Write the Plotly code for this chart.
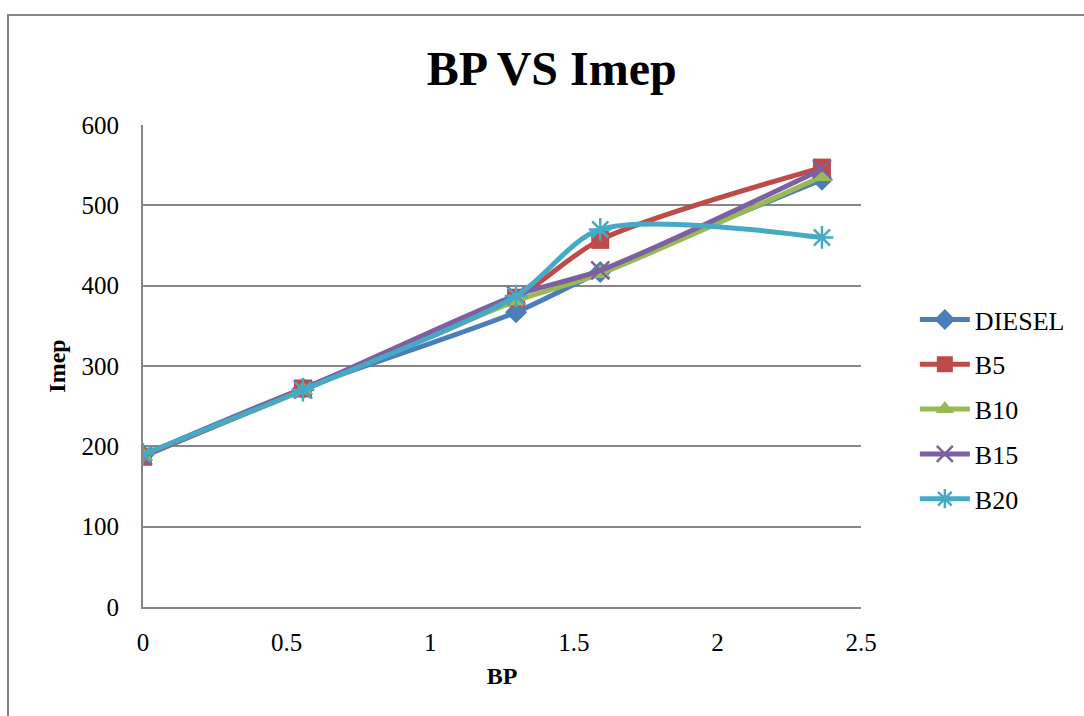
import plotly.graph_objects as go

bp = [0, 0.557, 1.299, 1.592, 2.364]
series_names = ["DIESEL", "B5", "B10", "B15", "B20"]
diesel = [189, 272, 367, 417, 532]
b5 = [187, 272, 385, 457, 547]
b10 = [188, 270, 381, 415, 536]
b15 = [188, 271, 388, 419, 545]
b20 = [190, 270, 387, 470, 460]
x_ticks = [0, 0.5, 1, 1.5, 2, 2.5]
y_ticks = [0, 100, 200, 300, 400, 500, 600]

colors = ["#4A7EBB", "#BE4B48", "#98B954", "#7D60A0", "#46AAC5"]
symbols = ["diamond", "square", "triangle-up", "x-thin", "asterisk"]
sizes = [17, 18, 18, 18, 19]

FONT = "Liberation Serif"
fig = go.Figure()
for i, (name, ys) in enumerate(zip(series_names, [diesel, b5, b10, b15, b20])):
    thin = symbols[i] in ("x-thin", "asterisk")
    fig.add_trace(go.Scatter(
        x=bp, y=ys, name=name, mode="lines+markers",
        line=dict(color=colors[i], width=5, shape="spline", smoothing=0.8),
        marker=dict(symbol=symbols[i], size=sizes[i], color=colors[i],
                    line=dict(color=colors[i], width=2.5 if thin else 0)),
        legendgroup=name,
    ))

fig.update_layout(
    width=1084, height=716,
    margin=dict(l=143, r=223, t=125, b=109),
    paper_bgcolor="white", plot_bgcolor="white",
    font=dict(family=FONT, color="black", size=25),
    title=dict(text="<b>BP VS Imep</b>", x=0.509, xref="container", xanchor="center",
               y=1 - 68 / 716, yref="container", yanchor="middle",
               font=dict(family=FONT, size=48, color="black")),
    showlegend=True,
    legend=dict(x=1.075, y=0.645, xanchor="left", yanchor="top",
                font=dict(family=FONT, size=26, color="black"),
                tracegroupgap=8, itemwidth=50, bgcolor="rgba(0,0,0,0)"),
    xaxis=dict(range=[0, 2.5], tickvals=x_ticks, ticktext=[str(v) for v in x_ticks],
               showgrid=False, zeroline=False, showline=True, linecolor="#868686",
               linewidth=2, ticks="", ticklen=0,
               tickfont=dict(family=FONT, size=25), ticklabelstandoff=12,
               title=dict(text="<b>BP</b>", font=dict(family=FONT, size=24), standoff=12)),
    yaxis=dict(range=[0, 600], tickvals=y_ticks, showgrid=True, gridcolor="#868686",
               gridwidth=1.5, zeroline=False, showline=True, linecolor="#868686",
               linewidth=2, ticks="",
               tickfont=dict(family=FONT, size=25), ticklabelstandoff=17,
               title=dict(text="<b>Imep</b>", font=dict(family=FONT, size=24), standoff=9)),
)

# outer chart frame
fig.add_shape(type="rect", xref="paper", yref="paper",
              x0=(8 - 143) / 718, x1=(1100 - 143) / 718,
              y0=(607 - 730) / 482, y1=(607 - 15) / 482,
              line=dict(color="#868686", width=2), fillcolor="rgba(0,0,0,0)", layer="below")

fig.write_html("out.html")
